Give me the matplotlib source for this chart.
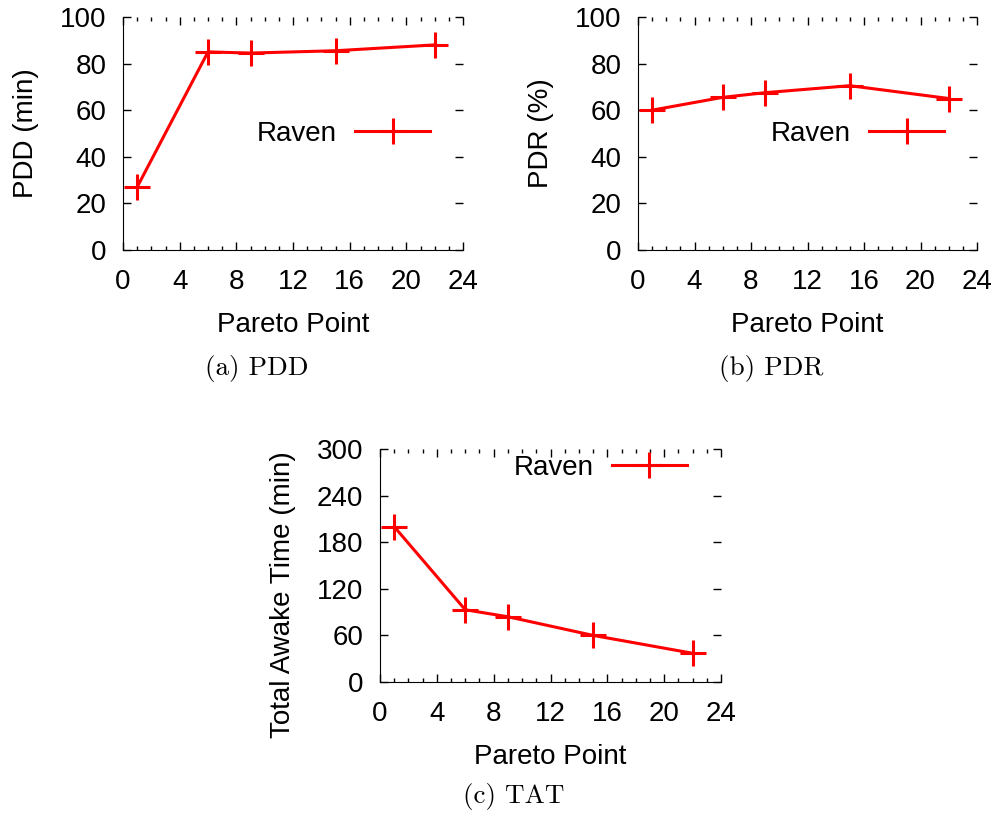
import matplotlib
matplotlib.use("Agg")
import matplotlib.pyplot as plt
from matplotlib.ticker import MultipleLocator

plt.rcParams['font.family'] = ['Liberation Sans', 'DejaVu Sans']

# Pareto points and the three metrics for Raven
pareto = [1, 6, 9, 15, 22]
pdd = [27, 85, 84.5, 85.5, 88]
pdr = [60, 65.5, 67.5, 70.5, 65]
tat = [200, 93, 84, 60, 37]

x_ticks = [0, 4, 8, 12, 16, 20, 24]
fs = 20


def draw_panel(ax, y, ylabel, ymax, ystep, leg_anchor, ylab_y=0.5):
    ax.plot(pareto, y, color='#ff0000', lw=2.2, marker='+', ms=19, mew=2.2,
            label='Raven')
    ax.set_xlim(0, 24)
    ax.set_ylim(0, ymax)
    ax.set_xticks(x_ticks)
    ax.xaxis.set_minor_locator(MultipleLocator(1))
    ax.yaxis.set_major_locator(MultipleLocator(ystep))
    ax.spines['top'].set_visible(False)
    ax.spines['right'].set_visible(False)
    ax.tick_params(which='both', direction='in', top=True, right=True,
                   labelsize=fs, width=1)
    ax.tick_params(which='major', length=6)
    ax.tick_params(which='minor', length=3)
    ax.tick_params(axis='x', pad=14)
    ax.tick_params(axis='y', pad=12)
    ax.set_xlabel('Pareto Point', fontsize=fs, labelpad=12)
    ax.set_ylabel(ylabel, fontsize=fs, labelpad=15)
    ax.yaxis.label.set_y(ylab_y)
    ax.legend(loc='center right', bbox_to_anchor=leg_anchor, frameon=False,
              markerfirst=False, handlelength=2.7, handletextpad=0.65,
              borderpad=0, borderaxespad=0, fontsize=fs)


fig = plt.figure(figsize=(10, 8.15), dpi=100)

ax_a = fig.add_axes([0.123, 0.6933, 0.34, 0.2859])
draw_panel(ax_a, pdd, 'PDD (min)', 100, 20, (0.903, 0.497))

ax_b = fig.add_axes([0.638, 0.6933, 0.339, 0.2859])
draw_panel(ax_b, pdr, 'PDR (%)', 100, 20, (0.903, 0.497))

ax_c = fig.add_axes([0.380, 0.1632, 0.341, 0.2859])
draw_panel(ax_c, tat, 'Total Awake Time (min)', 300, 60, (0.90, 0.92),
           ylab_y=0.373)

cap = dict(fontsize=19.5, family='cmr10', ha='center', va='center')
fig.text(0.257, 1 - 368 / 815, '(a) PDD', **cap)
fig.text(0.771, 1 - 368 / 815, '(b) PDR', **cap)
fig.text(0.514, 1 - 797 / 815, '(c) TAT', **cap)

fig.savefig('out.png', dpi=100)
